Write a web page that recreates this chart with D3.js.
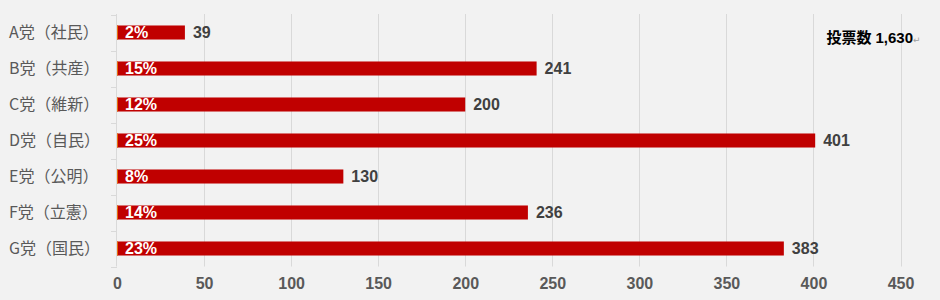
<!DOCTYPE html>
<html><head><meta charset="utf-8">
<script src="https://cdn.jsdelivr.net/npm/d3@7/dist/d3.min.js"></script>
<style>
html,body{margin:0;padding:0;background:#f2f2f2;}
svg{display:block;}
</style></head>
<body>
<svg id="chart" width="940" height="300"></svg>
<script>
const categories = ["A党（社民）","B党（共産）","C党（維新）","D党（自民）","E党（公明）","F党（立憲）","G党（国民）"];
const votes = [39, 241, 200, 401, 130, 236, 383];
const percents = ["2%","15%","12%","25%","8%","14%","23%"];
const xTicks = [0,50,100,150,200,250,300,350,400,450];
const totalCaption = "投票数";
const totalValue = "1,630";

const svg = d3.select("#chart");
svg.append("rect").attr("width",940).attr("height",300).attr("fill","#f2f2f2");

const x = d3.scaleLinear().domain([0,450]).range([117,900.5]);
const y = d3.scaleBand().domain(categories).range([14.5,266.5]).paddingInner(0.61).paddingOuter(0.305);
const yOuter = d3.scaleBand().domain(categories).range([14.5,266.5]);

// gridlines
svg.append("g").selectAll("line").data(xTicks.slice(1)).join("line")
  .attr("x1",d=>Math.round(x(d))+0.5).attr("x2",d=>Math.round(x(d))+0.5)
  .attr("y1",14).attr("y2",266.5)
  .attr("stroke","#d9d9d9").attr("stroke-width",1);

// y axis line + ticks at band boundaries
const ya = svg.append("g");
ya.append("line").attr("x1",116.5).attr("x2",116.5).attr("y1",14).attr("y2",266.5)
  .attr("stroke","#d9d9d9");
const bounds = categories.map(c=>yOuter(c)).concat([266.5]);
ya.selectAll("line.tk").data(bounds).join("line").attr("class","tk")
  .attr("x1",111).attr("x2",117).attr("y1",d=>Math.round(d)+0.5).attr("y2",d=>Math.round(d)+0.5)
  .attr("stroke","#d9d9d9");

// category labels
svg.append("g").selectAll("text").data(categories).join("text")
  .attr("x",9).attr("y",d=>yOuter(d)+yOuter.bandwidth()/2)
  .attr("dy","0.36em")
  .attr("font-family","'Noto Sans CJK JP','Noto Sans',sans-serif")
  .attr("font-size",16).attr("fill","#595959")
  .text(d=>d);

// bars
svg.append("g").selectAll("rect").data(categories).join("rect")
  .attr("x",x(0)).attr("y",d=>y(d))
  .attr("width",(d,i)=>x(votes[i])-x(0)).attr("height",y.bandwidth())
  .attr("fill","#c00000");
svg.append("g").selectAll("line").data(categories).join("line")
  .attr("x1",x(0)+0.5).attr("x2",x(0)+0.5)
  .attr("y1",d=>y(d)).attr("y2",d=>y(d)+y.bandwidth())
  .attr("stroke","#e46c0a").attr("stroke-width",1);

// percent labels
svg.append("g").selectAll("text").data(categories).join("text")
  .attr("x",x(0)+8).attr("y",d=>y(d)+y.bandwidth()/2).attr("dy","0.37em")
  .attr("font-family","'Liberation Sans',Arial,sans-serif").attr("font-weight","bold")
  .attr("font-size",16).attr("fill","#ffffff")
  .text((d,i)=>percents[i]);

// value labels
svg.append("g").selectAll("text").data(categories).join("text")
  .attr("x",(d,i)=>x(votes[i])+8).attr("y",d=>y(d)+y.bandwidth()/2).attr("dy","0.37em")
  .attr("font-family","'Liberation Sans',Arial,sans-serif").attr("font-weight","bold")
  .attr("font-size",16).attr("fill","#404040")
  .text((d,i)=>votes[i]);

// x axis labels
const xa = svg.append("g").attr("transform","translate(0,266)")
  .call(d3.axisBottom(x).tickValues(xTicks).tickSize(0).tickPadding(12));
xa.select(".domain").remove();
xa.selectAll("text").attr("font-family","'Liberation Sans',Arial,sans-serif")
  .attr("font-weight","bold").attr("font-size",16).attr("fill","#595959");

// total label
const t = svg.append("text").attr("x",826.5).attr("y",37).attr("dy","0.36em");
t.append("tspan").attr("font-family","'Noto Sans CJK JP',sans-serif")
  .attr("font-weight","bold").attr("font-size",15).attr("fill","#000").text(totalCaption);
t.append("tspan").attr("font-family","'Liberation Sans',Arial,sans-serif")
  .attr("font-weight","bold").attr("font-size",15).attr("fill","#000").attr("dx",4).text(totalValue);
t.append("tspan").attr("font-family","'DejaVu Sans',sans-serif")
  .attr("font-size",9).attr("fill","#a0a0a0").text("↵");
</script>
</body></html>
